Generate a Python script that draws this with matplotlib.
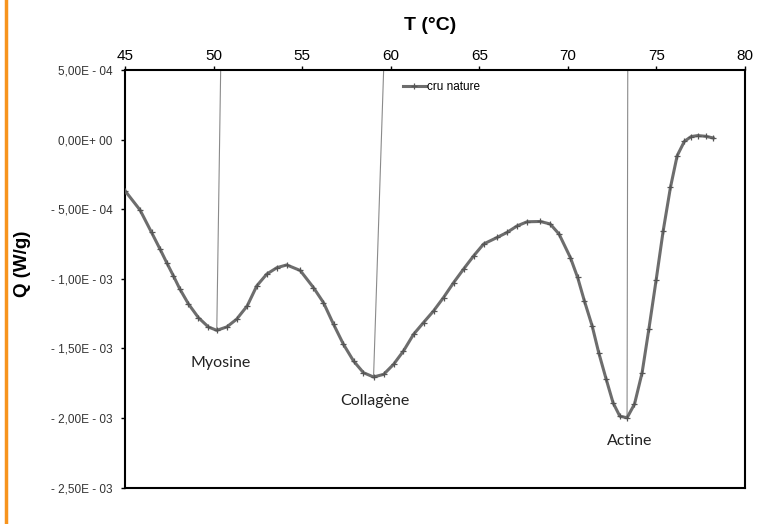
import matplotlib
matplotlib.use("Agg")
import matplotlib.pyplot as plt
from matplotlib.lines import Line2D

plt.rcParams['font.family'] = ['Liberation Sans', 'DejaVu Sans']

# Data
T = [45.0, 45.85, 46.5, 46.98, 47.35, 47.73, 48.1, 48.58, 49.14, 49.7, 50.18,
     50.75, 51.3, 51.9, 52.44, 53.0, 53.57, 54.13, 54.89, 55.64, 56.2, 56.77,
     57.33, 57.9, 58.46, 59.03, 59.6, 60.16, 60.72, 61.29, 61.85, 62.42, 62.98,
     63.55, 64.11, 64.68, 65.24, 66.0, 66.56, 67.13, 67.7, 68.45, 69.0, 69.5,
     70.14, 70.55, 70.93, 71.37, 71.74, 72.16, 72.55, 72.93, 73.34, 73.76,
     74.19, 74.57, 74.98, 75.38, 75.79, 76.17, 76.58, 76.96, 77.33, 77.77, 78.2]
Q = [-3.67e-4, -5.06e-4, -6.67e-4, -7.87e-4, -8.83e-4, -9.78e-4, -1.074e-3,
     -1.18e-3, -1.278e-3, -1.345e-3, -1.37e-3, -1.345e-3, -1.29e-3, -1.194e-3,
     -1.05e-3, -0.966e-3, -0.92e-3, -0.90e-3, -0.94e-3, -1.063e-3, -1.17e-3,
     -1.326e-3, -1.47e-3, -1.59e-3, -1.674e-3, -1.705e-3, -1.686e-3, -1.614e-3,
     -1.518e-3, -1.398e-3, -1.314e-3, -1.23e-3, -1.134e-3, -1.027e-3, -0.93e-3,
     -0.835e-3, -0.75e-3, -0.703e-3, -0.667e-3, -0.62e-3, -0.59e-3, -0.588e-3,
     -0.606e-3, -0.678e-3, -0.847e-3, -0.99e-3, -1.158e-3, -1.338e-3, -1.53e-3,
     -1.72e-3, -1.89e-3, -1.986e-3, -1.998e-3, -1.90e-3, -1.674e-3, -1.362e-3,
     -1.01e-3, -0.655e-3, -0.343e-3, -0.115e-3, -0.012e-3, 0.022e-3, 0.029e-3,
     0.024e-3, 0.012e-3]

series_name = "cru nature"
x_ticks = [45, 50, 55, 60, 65, 70, 75, 80]
y_ticks = [5e-4, 0.0, -5e-4, -1e-3, -1.5e-3, -2e-3, -2.5e-3]
y_tick_labels = ["5,00E - 04", "0,00E+ 00", "- 5,00E - 04", "- 1,00E - 03",
                 "- 1,50E - 03", "- 2,00E - 03", "- 2,50E - 03"]

peak_names = ["Myosine", "Collagène", "Actine"]
peak_top_T = [50.4, 59.6, 73.38]      # where the marker line meets the top axis
peak_T = [50.18, 59.03, 73.34]        # peak minimum
peak_Q = [-1.37e-3, -1.705e-3, -1.998e-3]
label_T = [50.37, 59.1, 73.5]
label_Q = [-1.604e-3, -1.878e-3, -2.165e-3]

fig = plt.figure(figsize=(7.59, 5.24), dpi=100)
ax = fig.add_axes([0.1647, 0.0693, 0.8169, 0.7971])

ax.plot(T, Q, color="#6d6d6d", lw=2.2, marker="+", ms=4.5, mew=0.9,
        mec="#555555", label=series_name, zorder=3)

for tt, tp, qp in zip(peak_top_T, peak_T, peak_Q):
    ax.plot([tt, tp], [5e-4, qp], color="#8a8a8a", lw=0.8, zorder=2)

for name, lt, lq in zip(peak_names, label_T, label_Q):
    ax.text(lt, lq, name, ha="center", va="center", fontsize=11.5,
            family=["Lato", "DejaVu Sans"], color="#222222")

ax.set_xlim(45, 80)
ax.set_ylim(-2.5e-3, 5e-4)
ax.set_xticks(x_ticks)
ax.set_yticks(y_ticks)
ax.set_yticklabels(y_tick_labels)
ax.xaxis.tick_top()
ax.xaxis.set_label_position("top")
ax.tick_params(axis="x", labelsize=11, length=3, width=1, pad=2, colors="black")
ax.tick_params(axis="y", labelsize=8.5, length=3, width=1, pad=6, colors="black")
for lab in ax.get_yticklabels():
    lab.set_color("#333333")
for s in ax.spines.values():
    s.set_linewidth(1.5)
    s.set_color("black")

ax.set_xlabel("T (°C)", fontsize=14, fontweight="bold")
ax.xaxis.set_label_coords(0.492, 1.095)
ax.set_ylabel("Q (W/g)", fontsize=13.5, fontweight="bold")
ax.yaxis.set_label_coords(-0.152, 0.535)

leg = ax.legend(loc="upper left", bbox_to_anchor=(0.44, 0.985), frameon=False,
                fontsize=8.5, handlelength=2.0, handletextpad=0.1,
                borderaxespad=0)

fig.add_artist(Line2D([5.5 / 759, 5.5 / 759], [0, 1], transform=fig.transFigure,
                      color="#f7941d", lw=2.5))

fig.savefig("out.png", dpi=100)
